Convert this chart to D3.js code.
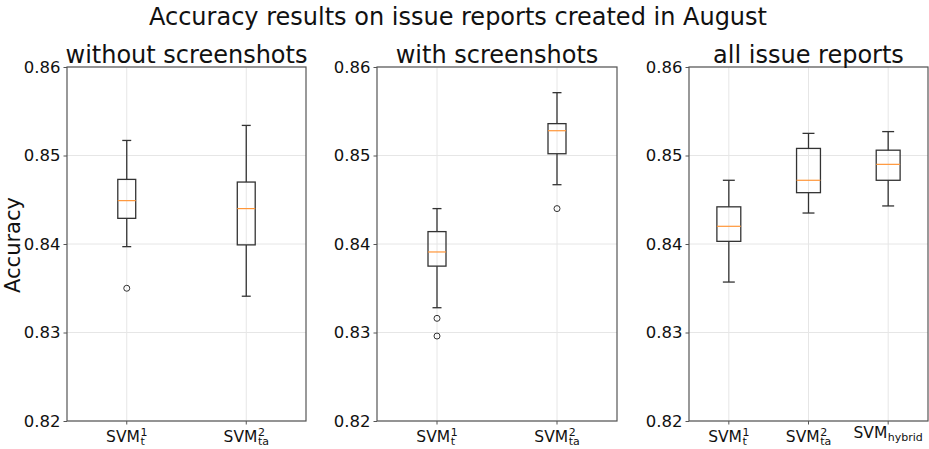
<!DOCTYPE html>
<html lang="en">
<head>
<meta charset="utf-8">
<title>Accuracy boxplots</title>
<script src="https://d3js.org/d3.v7.min.js"></script>
<style>
  body { margin: 0; background: #fff; }
  svg text { font-family: "DejaVu Sans", sans-serif; fill: #111; }
</style>
</head>
<body>
<div id="chart"></div>
<script>
// box stats: low whisker, q1, median, q3, high whisker, outliers
const withoutShots = [
  { lo: 0.8397, q1: 0.8429, med: 0.8449, q3: 0.8473, hi: 0.8517, out: [0.8350] },
  { lo: 0.8341, q1: 0.8399, med: 0.8440, q3: 0.8470, hi: 0.8534, out: [] }
];
const withShots = [
  { lo: 0.8328, q1: 0.8375, med: 0.8391, q3: 0.8414, hi: 0.8440, out: [0.8316, 0.8296] },
  { lo: 0.8467, q1: 0.8502, med: 0.8528, q3: 0.8536, hi: 0.8571, out: [0.8440] }
];
const allReports = [
  { lo: 0.8357, q1: 0.8403, med: 0.8420, q3: 0.8442, hi: 0.8472, out: [] },
  { lo: 0.8435, q1: 0.8458, med: 0.8472, q3: 0.8508, hi: 0.8525, out: [] },
  { lo: 0.8443, q1: 0.8472, med: 0.8490, q3: 0.8506, hi: 0.8527, out: [] }
];

// tick labels: base text, superscript, subscript
const labelsTwo = [["SVM", "1", "t"], ["SVM", "2", "ta"]];
const labelsThree = [["SVM", "1", "t"], ["SVM", "2", "ta"], ["SVM", "", "hybrid"]];
const panelTitles = ["without screenshots", "with screenshots", "all issue reports"];
const yTicks = [0.82, 0.83, 0.84, 0.85, 0.86];

const W = 929, H = 449;
const plotTop = 67, plotBottom = 421;
const panels = [
  { x0: 67, x1: 306, data: withoutShots, labels: labelsTwo, bw: 0.15 },
  { x0: 377, x1: 617, data: withShots, labels: labelsTwo, bw: 0.15 },
  { x0: 689, x1: 928, data: allReports, labels: labelsThree, bw: 0.3 }
];

const svg = d3.select("#chart").append("svg")
  .attr("width", W)
  .attr("height", H);

svg.append("text")
  .attr("x", 458)
  .attr("y", 25)
  .attr("text-anchor", "middle")
  .style("font-size", "24px")
  .text("Accuracy results on issue reports created in August");

svg.append("text")
  .attr("transform", "translate(20,245) rotate(-90)")
  .attr("text-anchor", "middle")
  .style("font-size", "21px")
  .text("Accuracy");

const y = d3.scaleLinear().domain([0.82, 0.86]).range([plotBottom, plotTop]);
const boxColor = "#333";

panels.forEach(function(p, i) {
  const n = p.data.length;
  const x = d3.scaleLinear().domain([0.5, n + 0.5]).range([p.x0, p.x1]);
  const g = svg.append("g");

  // grid
  g.selectAll("line.gy").data(yTicks).enter().append("line")
    .attr("x1", p.x0).attr("x2", p.x1)
    .attr("y1", d => y(d)).attr("y2", d => y(d))
    .attr("stroke", "#e6e6e6").attr("stroke-width", 1);
  g.selectAll("line.gx").data(d3.range(1, n + 1)).enter().append("line")
    .attr("x1", d => x(d)).attr("x2", d => x(d))
    .attr("y1", plotTop).attr("y2", plotBottom)
    .attr("stroke", "#e6e6e6").attr("stroke-width", 1);

  // y axis
  const ya = g.append("g")
    .attr("transform", "translate(" + p.x0 + ",0)")
    .call(d3.axisLeft(y).tickValues(yTicks).tickFormat(d3.format(".2f")).tickSize(3.5).tickPadding(3));
  ya.select(".domain").remove();
  ya.selectAll("line").attr("stroke", "#555");
  ya.selectAll("text").style("font-size", "16.5px").attr("fill", "#111");

  // x ticks
  g.selectAll("line.xt").data(d3.range(1, n + 1)).enter().append("line")
    .attr("x1", d => x(d)).attr("x2", d => x(d))
    .attr("y1", plotBottom).attr("y2", plotBottom + 3.5)
    .attr("stroke", "#555");

  // frame
  g.append("rect")
    .attr("x", p.x0).attr("y", plotTop)
    .attr("width", p.x1 - p.x0).attr("height", plotBottom - plotTop)
    .attr("fill", "none").attr("stroke", "#555").attr("stroke-width", 1.2);

  // title
  svg.append("text")
    .attr("x", (p.x0 + p.x1) / 2)
    .attr("y", 63)
    .attr("text-anchor", "middle")
    .style("font-size", "24px")
    .text(panelTitles[i]);

  // boxes
  const halfW = (x(1 + p.bw) - x(1)) / 2;
  const boxes = g.selectAll("g.box").data(p.data).enter().append("g")
    .attr("transform", (d, j) => "translate(" + x(j + 1) + ",0)");

  boxes.append("line")
    .attr("x1", 0).attr("x2", 0)
    .attr("y1", d => y(d.hi)).attr("y2", d => y(d.q3))
    .attr("stroke", boxColor).attr("stroke-width", 1.3);
  boxes.append("line")
    .attr("x1", 0).attr("x2", 0)
    .attr("y1", d => y(d.q1)).attr("y2", d => y(d.lo))
    .attr("stroke", boxColor).attr("stroke-width", 1.3);
  boxes.append("line")
    .attr("x1", -halfW / 2).attr("x2", halfW / 2)
    .attr("y1", d => y(d.hi)).attr("y2", d => y(d.hi))
    .attr("stroke", boxColor).attr("stroke-width", 1.3);
  boxes.append("line")
    .attr("x1", -halfW / 2).attr("x2", halfW / 2)
    .attr("y1", d => y(d.lo)).attr("y2", d => y(d.lo))
    .attr("stroke", boxColor).attr("stroke-width", 1.3);
  boxes.append("rect")
    .attr("x", -halfW).attr("width", 2 * halfW)
    .attr("y", d => y(d.q3)).attr("height", d => y(d.q1) - y(d.q3))
    .attr("fill", "none").attr("stroke", boxColor).attr("stroke-width", 1.3);
  boxes.append("line")
    .attr("x1", -halfW).attr("x2", halfW)
    .attr("y1", d => y(d.med)).attr("y2", d => y(d.med))
    .attr("stroke", "#ff9638").attr("stroke-width", 1.2);
  boxes.selectAll("circle").data(d => d.out).enter().append("circle")
    .attr("cx", 0).attr("cy", d => y(d)).attr("r", 3)
    .attr("fill", "none").attr("stroke", boxColor).attr("stroke-width", 1);

  // x tick labels: one text element, scripts as tspans
  p.labels.forEach(function(lab, j) {
    const cx = x(j + 1);
    const base = lab[1] === "" ? 437.5 : 441.5;
    const t = svg.append("text").attr("y", base);
    const main = t.append("tspan").style("font-size", "15.5px").text(lab[0]);
    const w0 = main.node().getComputedTextLength();
    let w1 = 0;
    let dySub = 3.5;
    if (lab[1] !== "") {
      const s = t.append("tspan").attr("x", w0 + 0.5).attr("dy", -6)
        .style("font-size", "11px").text(lab[1]);
      w1 = s.node().getComputedTextLength();
      dySub = 9.5;
    }
    const sb = t.append("tspan").attr("x", w0 + 0.5).attr("dy", dySub)
      .style("font-size", "11px").text(lab[2]);
    w1 = Math.max(w1, sb.node().getComputedTextLength());
    t.attr("transform", "translate(" + (cx - (w0 + w1 + 0.5) / 2) + ",0)");
  });
});
</script>
</body>
</html>
